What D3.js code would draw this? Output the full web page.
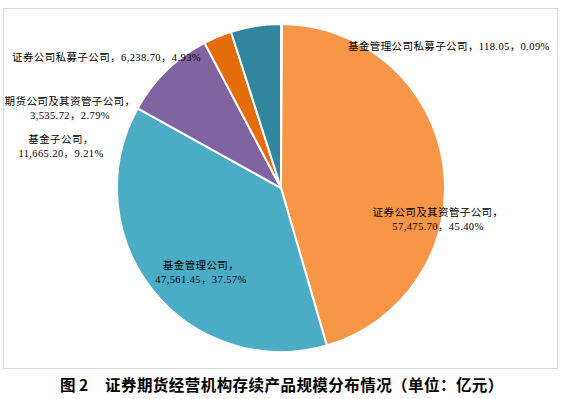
<!DOCTYPE html>
<html>
<head>
<meta charset="utf-8">
<script src="https://cdn.jsdelivr.net/npm/d3@7.9.0/dist/d3.min.js"></script>
<style>
  body { margin: 0; background: #fff; }
  svg { display: block; }
</style>
</head>
<body>
<div id="chart"></div>
<script>
// data, in drawing order starting at 12 o'clock
const categories = ["基金管理公司私募子公司", "证券公司及其资管子公司", "基金管理公司", "基金子公司", "期货公司及其资管子公司", "证券公司私募子公司"];
const values = [118.05, 57475.70, 47561.45, 11665.20, 3535.72, 6238.70];
const valueLabels = ["118.05", "57,475.70", "47,561.45", "11,665.20", "3,535.72", "6,238.70"];
const percentLabels = ["0.09%", "45.40%", "37.57%", "9.21%", "2.79%", "4.93%"];
const titleNo = "图 2";
const title = "证券期货经营机构存续产品规模分布情况（单位：亿元）";

const colors = ["#4F81BD", "#F79646", "#4BACC6", "#8064A2", "#E46C0A", "#31859C"];

// label layout: [x, y, twoLines]
const labelLayout = [
  [348, 46, false],
  [438, 212, true],
  [201, 265, true],
  [61, 139, true],
  [70, 101, true],
  [12, 57, false]
];

const width = 565, height = 399;
const cx = 281, cy = 188, radius = 164;

const svg = d3.select("#chart").append("svg")
  .attr("width", width)
  .attr("height", height);

svg.append("rect")
  .attr("x", 3.5).attr("y", 8.5)
  .attr("width", 554).attr("height", 360)
  .attr("fill", "#fff")
  .attr("stroke", "#d9d9d9")
  .attr("stroke-width", 1);

const data = categories.map((c, i) => ({ name: c, value: values[i], i }));
const pie = d3.pie().sort(null).value(d => d.value);
const arc = d3.arc().innerRadius(0).outerRadius(radius);

const g = svg.append("g").attr("transform", `translate(${cx},${cy})`);
g.selectAll("path")
  .data(pie(data))
  .enter()
  .append("path")
  .attr("d", arc)
  .attr("fill", d => colors[d.data.i])
  .attr("stroke", "#fff")
  .attr("stroke-width", 2)
  .attr("stroke-linejoin", "round");

const font = "'Liberation Serif', 'Noto Sans CJK SC', serif";
const labels = svg.append("g")
  .attr("font-family", font)
  .attr("font-size", 10.5)
  .attr("letter-spacing", 0.4)
  .attr("fill", "#000");

data.forEach((d, i) => {
  const [x, y, two] = labelLayout[i];
  if (two) {
    const t = labels.append("text")
      .attr("x", x).attr("y", y)
      .attr("text-anchor", "middle")
      .attr("dominant-baseline", "central");
    t.append("tspan").attr("x", x).text(d.name + "，");
    t.append("tspan").attr("x", x).attr("dy", 13.5)
      .text(valueLabels[i] + "，" + percentLabels[i]);
  } else {
    labels.append("text")
      .attr("x", x).attr("y", y)
      .attr("dominant-baseline", "central")
      .text(d.name + "，" + valueLabels[i] + "，" + percentLabels[i]);
  }
});

const tg = svg.append("g")
  .attr("font-family", "'Noto Sans CJK SC', sans-serif")
  .attr("font-weight", "bold")
  .attr("font-size", 15.5);
tg.append("text")
  .attr("x", 60).attr("y", 384)
  .attr("dominant-baseline", "central")
  .attr("xml:space", "preserve")
  .style("white-space", "pre")
  .text(titleNo);
tg.append("text")
  .attr("x", 105).attr("y", 384)
  .attr("dominant-baseline", "central")
  .attr("letter-spacing", 0.45)
  .text(title);
</script>
</body>
</html>
